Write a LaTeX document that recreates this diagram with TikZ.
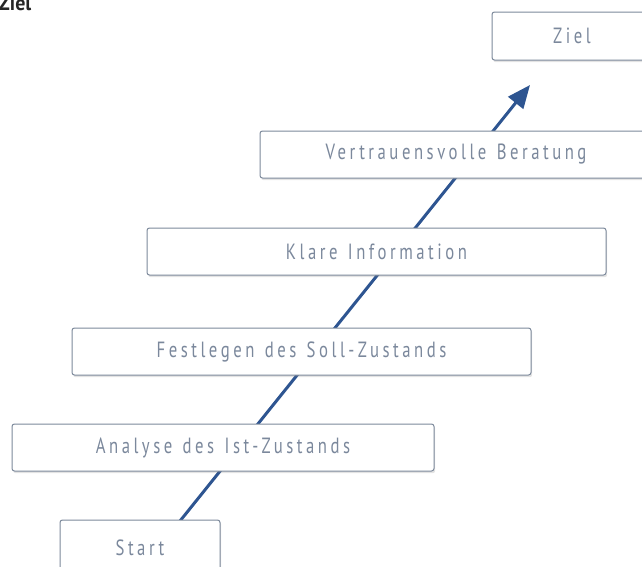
\documentclass[tikz,border=0pt]{standalone}
\usepackage{fontspec}
\setmainfont{PT Sans}[FakeStretch=0.76, LetterSpace=16, WordSpace=1.3]
\newfontfamily\headfont{PT Sans}[FakeStretch=0.95]
\usetikzlibrary{arrows.meta,shadows}
\definecolor{boxline}{HTML}{7C899B}
\definecolor{boxtext}{HTML}{7B889C}
\definecolor{arrowblue}{HTML}{2E5591}
\tikzset{
  stepbox/.style={draw=boxline, line width=1pt, fill=white, rounded corners=2.5pt,
    text=boxtext, font=\fontsize{22}{24}\selectfont, inner sep=0pt,
    drop shadow={opacity=0.22, shadow xshift=1.2pt, shadow yshift=-2.2pt}},
  flow/.style={draw=arrowblue, line width=3pt, -{Triangle[length=23pt,width=19pt]}}
}
\begin{document}
\begin{tikzpicture}[x=1pt,y=-1pt]
\useasboundingbox (0,0) rectangle (642,566);
\clip (0,0) rectangle (642,566);
\coordinate (tail) at (180,521);
\coordinate (tip) at (530,85);
\draw[flow] (tail) -- (tip);
\node[stepbox, minimum width=160pt, minimum height=48pt] (ziel) at (572,36) {Ziel};
\node[stepbox, minimum width=392pt, minimum height=47pt] (vb) at (456,154.5) {Vertrauensvolle Beratung};
\node[stepbox, minimum width=459pt, minimum height=47pt] (ki) at (376.5,251.5) {Klare Information};
\node[stepbox, minimum width=459pt, minimum height=47pt] (fs) at (301.5,351.5) {Festlegen des Soll-Zustands};
\node[stepbox, minimum width=422pt, minimum height=47pt] (ai) at (223,447.5) {Analyse des Ist-Zustands};
\node[stepbox, minimum width=160pt, minimum height=56pt] (st) at (140,548) {Start};
\node[anchor=base west, inner sep=0pt, text=black!85, font=\headfont\bfseries\fontsize{21}{24}\selectfont] (title) at (-1,10) {Ziel};
\end{tikzpicture}
\end{document}
